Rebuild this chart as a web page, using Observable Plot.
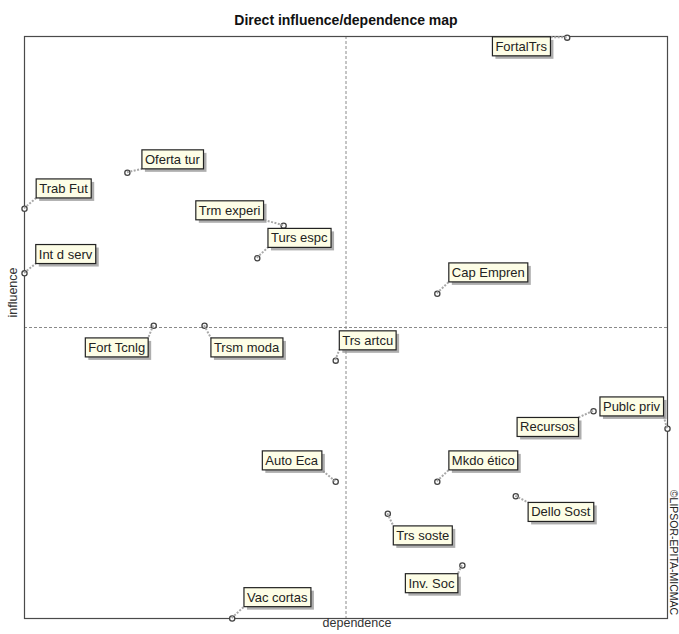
<!DOCTYPE html>
<html><head><meta charset="utf-8">
<script src="https://cdn.jsdelivr.net/npm/d3@7"></script>
<script src="https://cdn.jsdelivr.net/npm/@observablehq/plot@0.6"></script>
<style>body{margin:0;background:#fff} svg{display:block}</style>
</head><body><div id="chart"></div>
<script>
// Variables and their positions on the direct influence/dependence map (0–100 scale)
const variables = ["FortalTrs","Oferta tur","Trab Fut","Trm experi","Turs espc","Int d serv","Cap Empren","Fort Tcnlg","Trsm moda","Trs artcu","Publc priv","Recursos","Mkdo ético","Auto Eca","Dello Sost","Trs soste","Inv. Soc","Vac cortas"];
const dependence = [84.4, 16.0, 0.0, 40.3, 36.2, 0.0, 64.2, 20.1, 28.0, 48.4, 100.0, 88.5, 64.2, 48.4, 76.4, 56.5, 68.1, 32.3];
const influence  = [99.8, 76.6, 70.4, 67.5, 61.9, 59.3, 55.8, 50.3, 50.3, 44.3, 32.6, 35.6, 23.5, 23.5, 21.0, 18.0, 9.1, 0.0];
const titleText = "Direct influence/dependence map";
const xLabel = "dependence";
const yLabel = "influence";
const credit = "©LIPSOR-EPITA-MICMAC";

// label placement (layout only)
const labelDx = [-46, 45, 39, -54, 42, 41, 51, -37, 42, 32, -36, -46, 46, -44, 45, 35, -31, 45];
const labelDy = [9, -13, -20, -15, -20, -19, -21, 22, 22, -20, -22, 16, -21, -21, 16, 22, 18, -21];

const data = variables.map((name, i) => ({name, x: dependence[i], y: influence[i]}));

const font = "'Liberation Sans', Arial, sans-serif";
const chart = Plot.plot({
  width: 679, height: 634,
  marginLeft: 24, marginRight: 12, marginTop: 36, marginBottom: 16,
  style: {fontFamily: font, background: "white"},
  x: {domain: [0, 100], axis: null},
  y: {domain: [0, 100], axis: null},
  marks: [
    Plot.ruleX([50], {stroke: "#8a8a8a", strokeDasharray: "3,2"}),
    Plot.ruleY([50], {stroke: "#8a8a8a", strokeDasharray: "3,2"}),
    Plot.frame({stroke: "#4a4a4a", strokeWidth: 1.2}),
    Plot.dot(data, {x: "x", y: "y", r: 2.6, stroke: "#444", fill: "white", strokeWidth: 1.3}),
    ...data.map((d, i) => Plot.text([d], {x: "x", y: "y", text: "name", dx: labelDx[i], dy: labelDy[i], fontSize: 13, fill: "#222", textAnchor: "middle"})),
    Plot.text([titleText], {text: d => d, frameAnchor: "top", dy: -21, fontSize: 14, fontWeight: "bold", fill: "#111", textAnchor: "middle"}),
    Plot.text([xLabel], {text: d => d, frameAnchor: "bottom", dx: 11, dy: 8, fontSize: 12.5, fill: "#333", textAnchor: "middle"}),
    Plot.text([yLabel], {text: d => d, frameAnchor: "left", dx: -12, dy: -35, rotate: -90, fontSize: 12.5, fill: "#333", textAnchor: "middle"}),
    Plot.text([credit], {text: d => d, frameAnchor: "right", dx: 6, dy: 225, rotate: 90, fontSize: 10.5, fill: "#222", textAnchor: "middle"})
  ]
});
document.getElementById("chart").append(chart);

// label boxes with drop shadow and dotted leader lines
const ns = "http://www.w3.org/2000/svg";
const sx = chart.scale("x"), sy = chart.scale("y");
const sr = chart.getBoundingClientRect();
const groups = Array.from(chart.querySelectorAll('g[aria-label="text"]')).slice(0, data.length);
const under = document.createElementNS(ns, "g");
groups[0].parentNode.insertBefore(under, groups[0]);
const mk = (tag, attrs) => { const e = document.createElementNS(ns, tag); for (const k in attrs) e.setAttribute(k, attrs[k]); return e; };
groups.forEach((g, i) => {
  const t = g.querySelector("text");
  const b = t.getBoundingClientRect();
  const x0 = b.left - sr.left - 3, x1 = b.right - sr.left + 3;
  const y0 = b.top - sr.top - 2, y1 = b.bottom - sr.top + 2;
  const mx = sx.apply(data[i].x), my = sy.apply(data[i].y);
  const cx = Math.max(x0, Math.min(x1, mx)), cy = Math.max(y0, Math.min(y1, my));
  under.append(mk("line", {x1: mx, y1: my, x2: cx, y2: cy, stroke: "#a8a8a8", "stroke-width": 2, "stroke-dasharray": "2,1.5"}));
  under.append(mk("rect", {x: x0 + 3, y: y0 + 3, width: x1 - x0, height: y1 - y0, fill: "#8c8c8c", opacity: 0.7}));
  under.append(mk("rect", {x: x0, y: y0, width: x1 - x0, height: y1 - y0, fill: "#fdfde6", stroke: "#222", "stroke-width": 1.2}));
});
</script>
</body></html>
